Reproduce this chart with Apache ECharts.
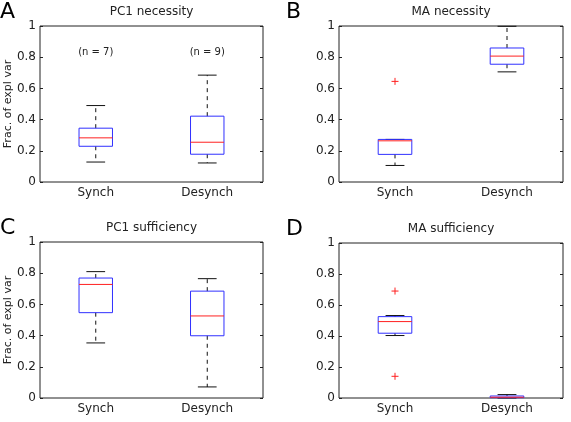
<!DOCTYPE html>
<html>
<head>
<meta charset="utf-8">
<script src="https://cdn.jsdelivr.net/npm/echarts@6/dist/echarts.min.js"></script>
<style>
  html, body { margin: 0; padding: 0; background: #fff; }
  #main { width: 571px; height: 422px; }
</style>
</head>
<body>
<div id="main"></div>
<script>
// data
// each box: [lower whisker, q1, median, q3, upper whisker]
var categories = ['Synch', 'Desynch'];
var pc1NecBoxes = [[0.128, 0.229, 0.283, 0.345, 0.49], [0.122, 0.178, 0.255, 0.422, 0.685]];
var maNecBoxes = [[0.106, 0.177, 0.264, 0.273, 0.273], [0.706, 0.755, 0.807, 0.859, 0.998]];
var pc1SufBoxes = [[0.353, 0.547, 0.728, 0.769, 0.81], [0.071, 0.399, 0.526, 0.685, 0.765]];
var maSufBoxes = [[0.403, 0.418, 0.493, 0.525, 0.532], [0.0, 0.002, 0.005, 0.013, 0.022]];
// outliers: [category index, value]
var maNecOutliers = [[0, 0.645]];
var maSufOutliers = [[0, 0.69], [0, 0.14]];
var nLabels = ['(n = 7)', '(n = 9)'];
var nLabelY = 0.83;
var panelTitles = ['PC1 necessity', 'MA necessity', 'PC1 sufficiency', 'MA sufficiency'];
var panelLetters = ['A', 'B', 'C', 'D'];
var yLabel = 'Frac. of expl var';

var FONT = '"DejaVu Sans", sans-serif';
var TXT = '#222';

var grids = [
    {left: 40, top: 26, width: 223, height: 156},
    {left: 339, top: 26, width: 224, height: 156},
    {left: 40, top: 242, width: 223, height: 156},
    {left: 339, top: 243, width: 224, height: 155}
];

function boxItem(params, api) {
    var x = api.value(0);
    var lo = api.coord([x, api.value(1)]);
    var q1 = api.coord([x, api.value(2)]);
    var med = api.coord([x, api.value(3)]);
    var q3 = api.coord([x, api.value(4)]);
    var hi = api.coord([x, api.value(5)]);
    var bw = api.size([1, 0])[0] * 0.3;
    var cw = bw * 0.56;
    var cx = q1[0];
    var dash = {stroke: '#111', lineWidth: 1, lineDash: [4, 4]};
    var solid = {stroke: '#111', lineWidth: 1};
    return {
        type: 'group',
        children: [
            {type: 'line', shape: {x1: cx, y1: q3[1], x2: cx, y2: hi[1]}, style: dash},
            {type: 'line', shape: {x1: cx, y1: q1[1], x2: cx, y2: lo[1]}, style: dash},
            {type: 'line', shape: {x1: cx - cw / 2, y1: hi[1], x2: cx + cw / 2, y2: hi[1]}, style: solid},
            {type: 'line', shape: {x1: cx - cw / 2, y1: lo[1], x2: cx + cw / 2, y2: lo[1]}, style: solid},
            {type: 'rect', shape: {x: cx - bw / 2, y: q3[1], width: bw, height: q1[1] - q3[1]},
                style: {fill: 'none', stroke: '#3030ff', lineWidth: 1}},
            {type: 'line', shape: {x1: cx - bw / 2, y1: med[1], x2: cx + bw / 2, y2: med[1]},
                style: {stroke: '#ff2020', lineWidth: 1}}
        ]
    };
}

function outlierItem(params, api) {
    var p = api.coord([api.value(0), api.value(1)]);
    var s = 3.5;
    var st = {stroke: '#ff2020', lineWidth: 1};
    return {
        type: 'group',
        children: [
            {type: 'line', shape: {x1: p[0] - s, y1: p[1], x2: p[0] + s, y2: p[1]}, style: st},
            {type: 'line', shape: {x1: p[0], y1: p[1] - s, x2: p[0], y2: p[1] + s}, style: st}
        ]
    };
}

function nLabelItem(params, api) {
    var p = api.coord([api.value(0), api.value(1)]);
    return {
        type: 'text', x: p[0], y: p[1],
        style: {text: nLabels[params.dataIndex], font: '10px ' + FONT, fill: TXT,
            align: 'center', verticalAlign: 'middle'}
    };
}

var xAxes = [], yAxes = [], series = [];
var allBoxes = [pc1NecBoxes, maNecBoxes, pc1SufBoxes, maSufBoxes];
var allOutliers = [null, maNecOutliers, null, maSufOutliers];

grids.forEach(function(g, i) {
    xAxes.push({
        gridIndex: i, type: 'category', data: categories, boundaryGap: true,
        axisLine: {show: false}, axisTick: {show: false}, splitLine: {show: false},
        axisLabel: {fontSize: 12, color: TXT, fontFamily: FONT, margin: 5}
    });
    ['left', 'right'].forEach(function(pos) {
        yAxes.push({
            gridIndex: i, type: 'value', position: pos, min: 0, max: 1, interval: 0.2,
            axisLine: {show: false}, splitLine: {show: false},
            axisTick: {show: true, inside: true, length: 3, lineStyle: {color: '#222'}},
            axisLabel: {show: pos === 'left', fontSize: 12, color: TXT, fontFamily: FONT, margin: 4}
        });
    });
    series.push({
        type: 'custom', xAxisIndex: i, yAxisIndex: 2 * i,
        renderItem: boxItem,
        encode: {x: 0, y: [1, 2, 3, 4, 5]},
        data: allBoxes[i].map(function(b, k) { return [k].concat(b); }),
        silent: true
    });
    if (allOutliers[i]) {
        series.push({
            type: 'custom', xAxisIndex: i, yAxisIndex: 2 * i,
            renderItem: outlierItem, encode: {x: 0, y: 1},
            data: allOutliers[i], silent: true
        });
    }
});

series.push({
    type: 'custom', xAxisIndex: 0, yAxisIndex: 0,
    renderItem: nLabelItem, encode: {x: 0, y: 1},
    data: nLabels.map(function(t, k) { return [k, nLabelY]; }),
    silent: true
});

var graphics = [];
grids.forEach(function(g, i) {
    graphics.push({
        type: 'text', x: g.left + g.width / 2, y: g.top - 14,
        style: {text: panelTitles[i], font: '12px ' + FONT, fill: TXT, align: 'center', verticalAlign: 'middle'}
    });
    graphics.push({
        type: 'text', x: i % 2 ? 286 : 0, y: g.top - 14,
        style: {text: panelLetters[i], font: '22px ' + FONT, fill: '#000', align: 'left', verticalAlign: 'middle'}
    });
    if (i % 2 === 0) {
        graphics.push({
            type: 'text', x: 8, y: g.top + g.height / 2, rotation: Math.PI / 2,
            style: {text: yLabel, font: '11px ' + FONT, fill: TXT, align: 'center', verticalAlign: 'middle'}
        });
    }
});

var chart = echarts.init(document.getElementById('main'));
chart.setOption({
    animation: false,
    backgroundColor: '#fff',
    grid: grids.map(function(g) {
        return {left: g.left, top: g.top, width: g.width, height: g.height,
            show: true, borderColor: '#222', borderWidth: 1, backgroundColor: 'transparent'};
    }),
    xAxis: xAxes,
    yAxis: yAxes,
    series: series,
    graphic: graphics
});
</script>
</body>
</html>
